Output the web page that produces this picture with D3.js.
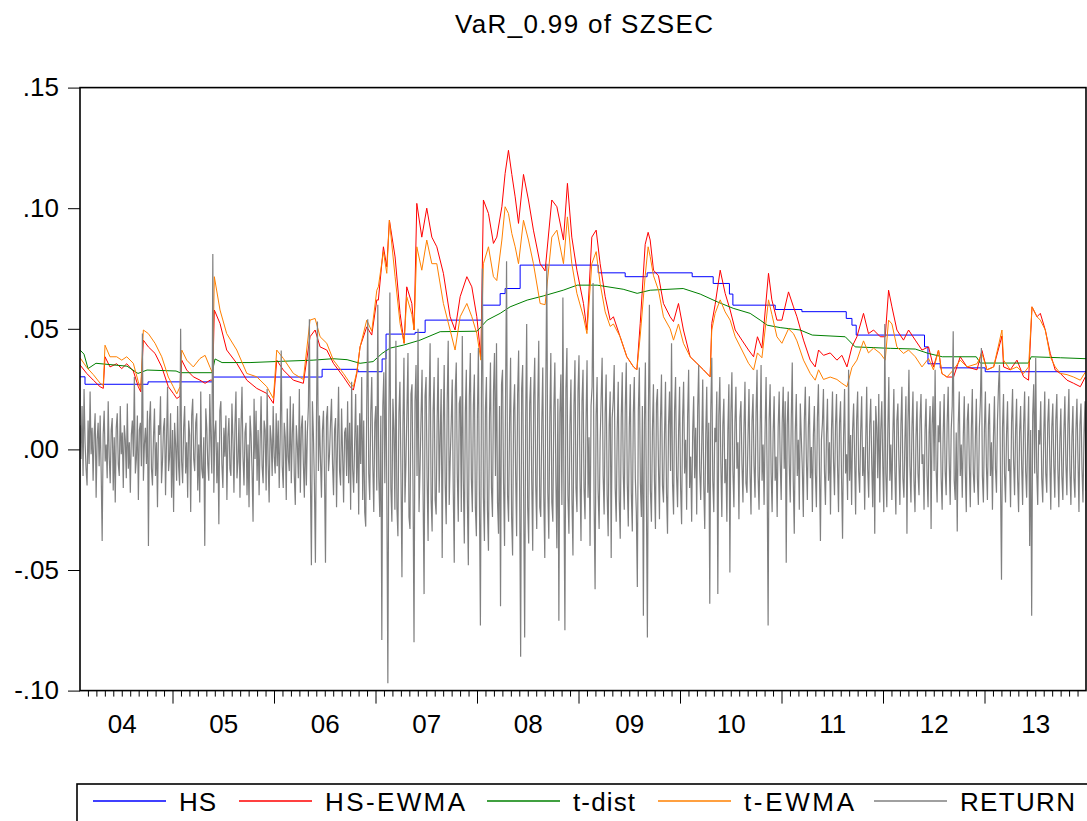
<!DOCTYPE html>
<html>
<head>
<meta charset="utf-8">
<script src="https://cdn.jsdelivr.net/npm/d3@7"></script>
<style>
  body { margin: 0; background: #fff; }
  svg { display: block; }
  text { font-family: "Liberation Sans", Arial, sans-serif; fill: #000; }
</style>
</head>
<body>
<script>
// ---- data ----
var title = "VaR_0.99 of SZSEC";
var yTicks = [-0.10, -0.05, 0.00, 0.05, 0.10, 0.15];
var yearLabels = ["04", "05", "06", "07", "08", "09", "10", "11", "12", "13"];
var seriesNames = ["HS", "HS-EWMA", "t-dist", "t-EWMA", "RETURN"];

// HS: step changes [decimal year, VaR]
var hsSteps = [
  [2004.089, .0301], [2004.138, .0270], [2004.759, .0280], [2005.399, .0300],
  [2006.474, .0332], [2006.828, .0322], [2007.065, .0375], [2007.104, .0478],
  [2007.390, .0485], [2007.489, .0536], [2008.050, .0598], [2008.228, .0646],
  [2008.277, .0667], [2008.425, .0764], [2009.194, .0732], [2009.460, .0716],
  [2009.676, .0732], [2010.120, .0716], [2010.327, .0688], [2010.487, .0644],
  [2010.521, .0598], [2010.938, .0580], [2011.201, .0571], [2011.638, .0543],
  [2011.694, .0515], [2011.736, .0474], [2012.409, .0425], [2012.443, .0355],
  [2012.564, .0338], [2013.007, .0322], [2014.000, .0322]
];

// t-dist [decimal year, VaR]
var tDist = [
  [2004.089, .0412], [2004.128, .0395], [2004.168, .0335], [2004.246, .0357],
  [2004.552, .0345], [2004.660, .0315], [2004.749, .0329], [2005.035, .0325],
  [2005.074, .0318], [2005.390, .0318], [2005.419, .0375], [2005.488, .0360],
  [2005.764, .0360], [2006.060, .0365], [2006.385, .0370], [2006.582, .0376],
  [2006.720, .0372], [2006.848, .0357], [2006.976, .0364], [2007.065, .0398],
  [2007.144, .0420], [2007.272, .0432], [2007.439, .0453], [2007.637, .0488],
  [2008.001, .0490], [2008.100, .0536], [2008.228, .0564], [2008.326, .0591],
  [2008.494, .0619], [2008.652, .0636], [2008.849, .0660], [2008.987, .0681],
  [2009.184, .0681], [2009.440, .0664], [2009.578, .0647], [2009.706, .0660],
  [2010.031, .0667], [2010.199, .0644], [2010.366, .0612], [2010.524, .0585],
  [2010.691, .0564], [2010.790, .0536], [2010.859, .0515], [2010.987, .0505],
  [2011.184, .0495], [2011.303, .0474], [2011.628, .0467], [2011.726, .0425],
  [2012.071, .0419], [2012.318, .0416], [2012.446, .0398], [2012.584, .0384],
  [2012.919, .0384], [2012.958, .0358], [2013.431, .0358], [2013.461, .0384],
  [2013.747, .0380], [2014.000, .0376]
];

// EWMA based series share one date grid
var ewmaDates = [
  2004.089, 2004.155, 2004.220, 2004.286, 2004.318, 2004.335, 2004.384, 2004.450, 2004.500, 2004.549,
  2004.614, 2004.663, 2004.687, 2004.713, 2004.762, 2004.828, 2004.894, 2004.959, 2005.008, 2005.042,
  2005.074, 2005.091, 2005.140, 2005.205, 2005.271, 2005.321, 2005.370, 2005.396, 2005.412, 2005.468,
  2005.534, 2005.633, 2005.732, 2005.830, 2005.929, 2005.994, 2006.027, 2006.092, 2006.191, 2006.289,
  2006.355, 2006.405, 2006.454, 2006.520, 2006.585, 2006.684, 2006.750, 2006.782, 2006.816, 2006.848,
  2006.914, 2006.963, 2007.013, 2007.028, 2007.078, 2007.111, 2007.137, 2007.193, 2007.242, 2007.282,
  2007.308, 2007.358, 2007.380, 2007.407, 2007.456, 2007.505, 2007.555, 2007.604, 2007.669, 2007.735,
  2007.784, 2007.834, 2007.900, 2007.949, 2007.998, 2008.038, 2008.063, 2008.113, 2008.162, 2008.195,
  2008.245, 2008.277, 2008.310, 2008.343, 2008.376, 2008.409, 2008.458, 2008.507, 2008.556, 2008.622,
  2008.671, 2008.737, 2008.787, 2008.852, 2008.891, 2008.934, 2008.984, 2009.049, 2009.083, 2009.131,
  2009.174, 2009.213, 2009.263, 2009.312, 2009.344, 2009.410, 2009.476, 2009.542, 2009.575, 2009.608,
  2009.657, 2009.686, 2009.706, 2009.739, 2009.788, 2009.837, 2009.903, 2009.936, 2009.985, 2010.034,
  2010.100, 2010.166, 2010.231, 2010.297, 2010.313, 2010.346, 2010.396, 2010.445, 2010.494, 2010.544,
  2010.610, 2010.675, 2010.725, 2010.763, 2010.807, 2010.872, 2010.905, 2010.955, 2011.004, 2011.069,
  2011.118, 2011.152, 2011.217, 2011.283, 2011.332, 2011.365, 2011.414, 2011.480, 2011.546, 2011.595,
  2011.645, 2011.694, 2011.743, 2011.808, 2011.857, 2011.907, 2011.973, 2012.022, 2012.055, 2012.088,
  2012.137, 2012.202, 2012.252, 2012.318, 2012.384, 2012.449, 2012.497, 2012.547, 2012.580, 2012.630,
  2012.695, 2012.761, 2012.827, 2012.926, 2012.975, 2013.024, 2013.090, 2013.172, 2013.188, 2013.254,
  2013.320, 2013.385, 2013.434, 2013.468, 2013.517, 2013.550, 2013.599, 2013.648, 2013.697, 2013.747,
  2013.813, 2013.878, 2013.944, 2013.993
];
var hsEwma = [
  .0350, .0315, .0287, .0260, .0253, .0384, .0342, .0355, .0335, .0355,
  .0325, .0260, .0239, .0453, .0425, .0398, .0342, .0260, .0232, .0211,
  .0220, .0370, .0329, .0301, .0287, .0274, .0287, .0287, .0578, .0522,
  .0412, .0357, .0287, .0253, .0232, .0191, .0370, .0329, .0287, .0274,
  .0467, .0495, .0425, .0412, .0357, .0301, .0260, .0246, .0315, .0425,
  .0508, .0474, .0620, .0619, .0840, .0757, .0950, .0798, .0564, .0440,
  .0674, .0605, .0495, .1020, .0880, .1000, .0880, .0840, .0730, .0550,
  .0495, .0633, .0716, .0674, .0550, .0384, .1034, .0978, .0854, .0880,
  .1006, .1144, .1240, .1140, .1047, .0937, .1140, .1034, .0909, .0770,
  .0740, .1034, .1006, .0868, .1103, .0880, .0743, .0605, .0495, .0880,
  .0909, .0770, .0633, .0536, .0550, .0467, .0384, .0342, .0330, .0522,
  .0850, .0900, .0868, .0743, .0720, .0605, .0550, .0530, .0605, .0495,
  .0384, .0357, .0330, .0301, .0522, .0600, .0743, .0647, .0578, .0495,
  .0453, .0412, .0384, .0467, .0420, .0730, .0620, .0536, .0536, .0653,
  .0591, .0550, .0453, .0370, .0342, .0412, .0390, .0400, .0370, .0390,
  .0342, .0425, .0467, .0564, .0480, .0495, .0467, .0467, .0660, .0591,
  .0495, .0453, .0495, .0453, .0412, .0425, .0342, .0412, .0315, .0300,
  .0300, .0384, .0342, .0330, .0410, .0330, .0342, .0470, .0342, .0330,
  .0370, .0301, .0287, .0591, .0550, .0564, .0495, .0398, .0329, .0315,
  .0287, .0274, .0260, .0300
];
var tEwma = [
  .0380, .0340, .0310, .0275, .0265, .0432, .0384, .0384, .0370, .0384,
  .0357, .0280, .0250, .0495, .0480, .0440, .0384, .0300, .0260, .0230,
  .0260, .0412, .0370, .0342, .0377, .0390, .0340, .0315, .0716, .0578,
  .0480, .0412, .0315, .0301, .0260, .0211, .0412, .0377, .0315, .0290,
  .0536, .0543, .0467, .0440, .0370, .0315, .0274, .0260, .0322, .0425,
  .0536, .0490, .0660, .0674, .0820, .0730, .0950, .0716, .0522, .0440,
  .0633, .0560, .0495, .0840, .0743, .0868, .0770, .0770, .0605, .0495,
  .0412, .0550, .0605, .0550, .0480, .0370, .0770, .0840, .0716, .0700,
  .0868, .1006, .0978, .0895, .0840, .0770, .0950, .0868, .0770, .0605,
  .0600, .0880, .0909, .0770, .0964, .0770, .0647, .0550, .0480, .0770,
  .0820, .0688, .0570, .0510, .0520, .0467, .0384, .0342, .0330, .0470,
  .0720, .0840, .0800, .0720, .0660, .0550, .0500, .0453, .0520, .0440,
  .0384, .0357, .0330, .0301, .0495, .0564, .0620, .0570, .0536, .0467,
  .0412, .0357, .0329, .0400, .0380, .0620, .0560, .0467, .0440, .0500,
  .0480, .0450, .0370, .0315, .0287, .0330, .0290, .0300, .0290, .0274,
  .0260, .0340, .0370, .0450, .0400, .0420, .0398, .0370, .0536, .0520,
  .0425, .0398, .0412, .0384, .0342, .0377, .0330, .0412, .0315, .0300,
  .0330, .0370, .0342, .0355, .0398, .0330, .0342, .0495, .0370, .0330,
  .0342, .0315, .0342, .0591, .0550, .0536, .0495, .0384, .0342, .0315,
  .0310, .0300, .0287, .0320
];

// daily return, sampled every couple of trading days, in units of 0.001
var returnStart = 2004.089, returnEnd = 2014.0;
var returnPermil = [
  10, -4, 18, -11, 25, 3, -8, -15, 12, -6, 24, -2, 9, -13, 6, 15, -20, 4, 11, -7,
  14, -9, -38, 6, 16, -5, 2, -12, 20, -3, -14, 8, 13, -17, 5, -22, 9, 15, -6, -11,
  18, -2, 7, -16, 10, 4, -12, 19, -8, 3,
  -18, 6, 12, -3, 30, -10, -4, 14, -21, 8, 11, -7, 48, -13, 2, 9, -6, 16, -40, 12,
  20, -8, -15, 5, 17, -11, 3, -24, 10, 6, 22, -14, -5, 9, 13, -19, 4, 26, -9, -3,
  15, -20, 8, -26, 11, 2, -13, 18, -7, -15,
  50, -5, -14, 9, 18, -10, 3, -20, 12, 6, -26, 14, 21, -4, -9, 11, 15, -17, 2, -22,
  24, -8, -12, 5, -40, 17, 9, -6, -13, 23, 4, -10, 81, -18, 7, 12, -14, 3, -31, 16,
  20, -6, -16, 9, -3, 14, -21, 5, 13, -8,
  -11, 19, 4, -18, 10, 24, -12, -5, 13, -20, 9, 26, -3, -15, 7, 11, -19, 2, -24, 14,
  6, -9, -30, 21, -4, 16, -13, 8, -19, 3, 22, -7, -14, 12, 8, -17, 25, -6, -22, 10,
  4, -11, 18, -3, -10, 15, -7, 12, -16, 5,
  41, -7, -16, 11, 5, -21, 17, -3, -9, 22, -14, 6, 19, -11, -23, 10, 2, -12, 25, -18,
  9, 14, -6, -20, 12, -15, 7, 18, 54, -12, -48, 20, 6, -15, -47, 11, 53, -9, 14, -4,
  -20, 8, 16, -10, -47, 13, 18, -9, -2, 11,
  21, -6, -19, 8, 13, -24, 4, 26, -9, -15, 17, -2, -22, 7, 9, -11, 20, -14, 11, -25,
  28, -8, -18, 3, 23, -14, 10, -27, 15, -6, 30, -21, 12, -26, -32, 18, 54, -10, -21, 15,
  30, -6, -26, 11, 18, -17, 60, -12, -28, 14,
  -79, 18, 32, -14, 41, -20, -97, 12, 65, -16, -30, 21, 8, -25, 45, -24, -36, 15, 28, -9,
  -53, 10, 38, -22, -5, 17, 40, -28, -33, 23, 27, -15, -80, 20, 35, -11, 50, -26, -8, 14,
  33, -18, -60, 22, 30, -12, -38, 19, 44, -21,
  -34, 16, 30, -21, -27, 12, 38, -18, 5, 25, -45, 9, 35, -14, -31, 20, 45, -23, -4, 11,
  29, -17, -47, 24, 36, -10, -30, 19, 22, -26, 47, -13, -39, 15, 33, -20, -48, 22, 40, -12,
  -26, 18, 31, -24, -36, 14, 42, -19, -73, 21,
  75, -20, -38, 17, 30, -25, -42, 13, 36, -16, -28, 24, 40, -11, 44, -22, -35, 18, -65, 27,
  33, -14, -40, 21, 78, -19, -30, 12, 38, -28, -44, 16, 27, -10, -36, 23, 41, -17, -86, 25,
  35, -21, -78, 14, 52, -24, -39, 19, 30, -13,
  -42, 22, 38, -15, -33, 19, 45, -24, -28, 11, 34, -20, -45, 26, 77, -18, -37, 13, 40, -22,
  -30, 17, 36, -12, -41, 21, -71, 15, 31, -23, 63, -14, -75, 25, 42, -19, -35, 10, 29, -21,
  -44, 18, 37, -16, -26, 24, 39, -13, -38, 20,
  33, -16, -29, 12, 37, -20, 5, -40, 18, 26, 69, -22, -58, 14, 30, -17, -33, 3, 21, 38,
  -11, -27, 15, 31, -19, -36, 10, 24, -45, 13, 20, 35, -16, -30, 8, 28, -21, -37, 13, 32,
  -10, -25, 17, 36, -14, -32, 9, 27, -18, -34,
  15, 30, -12, -26, -57, 16, 34, -14, -28, 18, -69, 11, 36, -20, -78, 15, 60, -17, -30, 8,
  27, -13, -33, 19, 25, -7, -29, 12, 31, -15, -22, 6, 28, -18, -35, 10, 24, -9, 44, -14,
  -27, 16, 30, -11, -24, 7, 26, -16, -31, 13,
  28, -10, 4, -25, 14, 33, -16, -3, -30, 7, 22, -12, 9, -27, 17, 35, -9, -21, 2, 29,
  -15, -33, 6, 26, -18, 11, -64, 16, 38, -13, -26, 9, 3, 24, -60, 14, 30, -6, -28, 10,
  21, -14, -4, -30, 8, 27, -51, 15, 32, -9,
  -24, 11, 26, -8, 3, -29, 13, 20, -6, -22, 9, 28, -14, -18, 5, 25, -10, -27, 12, 23,
  -7, -20, 15, 33, -11, -25, 6, 35, -13, 2, -23, 8, 30, -9, -73, 12, 27, -10, -26, 7,
  22, -13, -3, -28, 9, 24, -5, -21, 11, 26,
  -8, 20, -47, 10, 24, -6, -22, 12, 36, -13, -35, 7, 23, -11, 4, -25, 19, 5, -8, -28,
  12, 26, -4, -21, 9, 22, -12, 1, -26, 6, 18, -10, -24, 13, 27, -7, -38, 4, 11, 25,
  -9, -23, 6, 21, -13, 3, -27, 8, 24, -5,
  -19, 10, 23, -7, -26, 11, 20, -12, -37, 5, 25, -10, -2, -21, 33, -13, 6, -23, 8, 19,
  -4, -27, 12, 24, -9, -18, 7, 22, -11, 1, -25, 3, 26, -8, -20, 10, 21, -6, -24, 12,
  -35, 18, 9, -12, 23, -22, 8, 20, -7, -26,
  52, -10, -24, 8, 30, -13, 2, -21, 6, 25, -9, -27, 12, 19, -5, -23, 10, 26, -12, -20,
  4, 22, -35, 11, 33, -7, -22, 9, 24, -13, -26, 5, 20, -10, -19, 12, 23, -6, -2, -25,
  8, 21, -11, -24, 7, 18, -33, 10, 22, -9,
  33, -8, -22, 10, 3, 20, -12, -25, 6, 23, -9, -19, 11, 26, -5, -23, 8, 18, 49, -13,
  -21, 7, -34, 10, 24, -11, 2, -20, 5, 22, -9, -26, 12, 19, -6, -24, 8, 25, -10, -18,
  4, 21, -12, -23, 9, 20, 42, -11, -22, 8,
  24, -7, -21, 10, 19, -11, 3, -25, 5, 22, -8, -18, 12, 26, 35, -12, -54, 9, 23, -10,
  -22, 6, 20, -9, -4, -24, 11, 25, -5, -19, 8, 21, -12, -26, 7, 18, -6, -23, 10, 24,
  -9, -20, 5, 22, -40, 8, -69, 14, 27, -10,
  38, -9, -23, 8, 2, 20, -12, -22, 6, 24, -10, -18, 11, 21, -5, -25, 9, 19, -7, -20,
  12, 23, -8, -24, 4, 17, -11, -21, 7, 22, -6, -19, 10, 25, -9, -23, 5, 18, -12, -20,
  8, 21, -4, -26, 10, 19, -8, -22, 6, 20, -17
];

// ---- styles / layout ----
var colors = ["#0000ff", "#ff0000", "#008000", "#ff8000", "#808080"];
var W = 1087, H = 821;
var plot = {left: 80, right: 1086, top: 87.6, bottom: 690.6};
var fontSize = 26;

var svg = d3.select("body").append("svg")
    .attr("width", W)
    .attr("height", H);

var x = d3.scaleLinear().domain([2004, 2014]).range([71, plot.right]);
var y = d3.scaleLinear().domain([-0.10, 0.15]).range([plot.bottom, plot.top]);

svg.append("clipPath").attr("id", "clip")
  .append("rect")
    .attr("x", plot.left).attr("y", plot.top)
    .attr("width", plot.right - plot.left).attr("height", plot.bottom - plot.top);

// title
svg.append("text")
    .attr("x", 584).attr("y", 33)
    .attr("text-anchor", "middle")
    .attr("font-size", fontSize)
    .attr("textLength", 258)
    .text(title);

// y axis
function fmt(d) {
  var s = Math.abs(d).toFixed(2).replace(/^0/, "");
  return (d < 0 ? "-" : "") + s;
}
var gy = svg.append("g")
    .attr("transform", "translate(" + plot.left + ",0)")
    .call(d3.axisLeft(y).tickValues(yTicks).tickSize(12).tickPadding(9).tickFormat(fmt));
gy.select(".domain").remove();
gy.selectAll("text").attr("font-size", fontSize).attr("font-family", null);

// x axis: monthly minor ticks, yearly major ticks, labels mid-year
function m12(d) { return Math.round((d - 2004) * 12) % 12; }
var months = d3.range(1, 120).map(function(m) { return 2004 + m / 12; })
    .filter(function(d) { return x(d) >= plot.left && m12(d) !== 0; });
var gxMinor = svg.append("g")
    .attr("transform", "translate(0," + plot.bottom + ")")
    .call(d3.axisBottom(x).tickValues(months).tickSize(6).tickFormat(""));
gxMinor.select(".domain").remove();

var years = d3.range(2005, 2014);
var gxMajor = svg.append("g")
    .attr("transform", "translate(0," + plot.bottom + ")")
    .call(d3.axisBottom(x).tickValues(years).tickSize(13).tickFormat(""));
gxMajor.select(".domain").remove();

var gxLab = svg.append("g")
    .attr("transform", "translate(0," + plot.bottom + ")")
    .call(d3.axisBottom(x).tickValues(d3.range(2004.5, 2014, 1)).tickSize(0).tickPadding(24)
      .tickFormat(function(d, i) { return yearLabels[i]; }));
gxLab.select(".domain").remove();
gxLab.selectAll("text").attr("font-size", fontSize).attr("font-family", null);
svg.selectAll(".tick line").attr("stroke", "#000");

// series, drawn in EViews order so RETURN sits on top
var line = d3.line()
    .x(function(d) { return x(d[0]); })
    .y(function(d) { return y(d[1]); });

var lines = svg.append("g").attr("clip-path", "url(#clip)");

var hsEwmaPts = ewmaDates.map(function(d, i) { return [d, hsEwma[i]]; });
var tEwmaPts = ewmaDates.map(function(d, i) { return [d, tEwma[i]]; });
var step = (returnEnd - returnStart) / (returnPermil.length - 1);
var returnPts = returnPermil.map(function(v, i) { return [returnStart + i * step, v / 1000]; });

var series = [
  {pts: hsSteps, curve: d3.curveStepAfter, w: 1},
  {pts: hsEwmaPts, curve: d3.curveLinear, w: 1},
  {pts: tDist, curve: d3.curveLinear, w: 1},
  {pts: tEwmaPts, curve: d3.curveLinear, w: 1},
  {pts: returnPts, curve: d3.curveLinear, w: 1.2}
];

series.forEach(function(s, i) {
  lines.append("path")
      .attr("fill", "none")
      .attr("stroke", colors[i])
      .attr("stroke-width", s.w)
      .attr("d", line.curve(s.curve)(s.pts));
});

// frame
svg.append("rect")
    .attr("x", plot.left).attr("y", plot.top)
    .attr("width", plot.right - plot.left).attr("height", plot.bottom - plot.top)
    .attr("fill", "none")
    .attr("stroke", "#000")
    .attr("stroke-width", 1.6);

// legend
var legendY = 801;
var legendLineX = [93, 239, 487, 658, 874];
var legendTextW = [37, 140, 62, 110, 115];

svg.append("rect")
    .attr("x", 77).attr("y", 784)
    .attr("width", 1030).attr("height", 60)
    .attr("fill", "none")
    .attr("stroke", "#000")
    .attr("stroke-width", 1.6);

var item = svg.selectAll(".legend-item")
  .data(seriesNames)
  .enter().append("g")
    .attr("class", "legend-item");

item.append("line")
    .attr("x1", function(d, i) { return legendLineX[i]; })
    .attr("x2", function(d, i) { return legendLineX[i] + 73; })
    .attr("y1", legendY).attr("y2", legendY)
    .attr("stroke", function(d, i) { return colors[i]; })
    .attr("stroke-width", 1.5);

item.append("text")
    .attr("x", function(d, i) { return legendLineX[i] + 86; })
    .attr("y", legendY + 9.5)
    .attr("font-size", fontSize)
    .attr("textLength", function(d, i) { return legendTextW[i]; })
    .attr("lengthAdjust", "spacing")
    .text(function(d) { return d; });
</script>
</body>
</html>
